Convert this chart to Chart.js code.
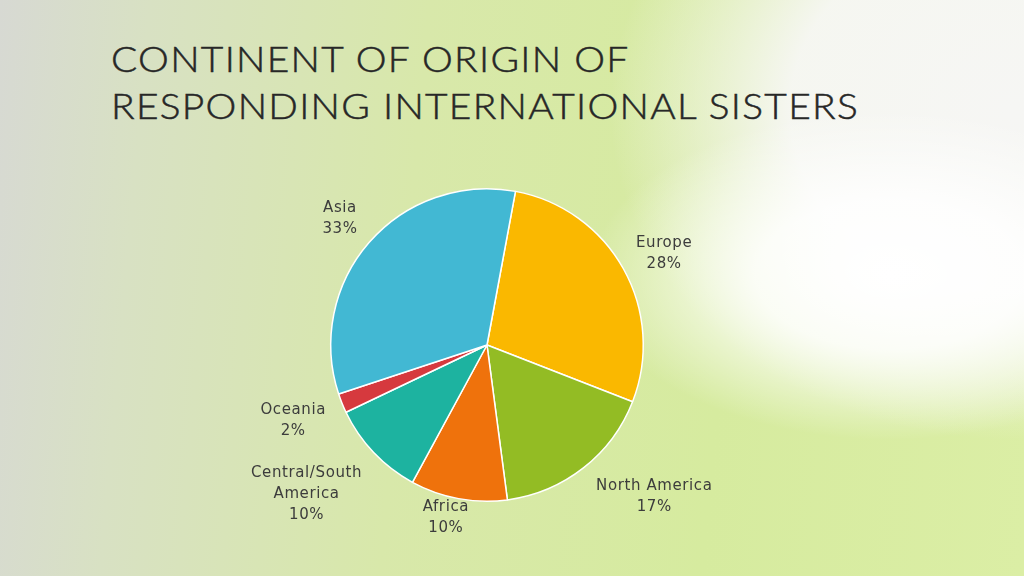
<!DOCTYPE html>
<html>
<head>
<meta charset="utf-8">
<script src="https://cdn.jsdelivr.net/npm/chart.js@4.4.0/dist/chart.umd.min.js"></script>
<style>
  html, body { margin: 0; padding: 0; }
  body {
    width: 1024px; height: 576px; overflow: hidden; position: relative;
    background:
      radial-gradient(ellipse 300px 165px at 890px 275px, rgba(255,255,255,1) 0%, rgba(255,255,255,0.85) 45%, rgba(255,255,255,0) 100%),
      radial-gradient(ellipse 400px 330px at 1010px 110px, rgba(246,246,244,1) 0%, rgba(247,247,245,0.95) 55%, rgba(250,250,248,0) 100%),
      linear-gradient(95deg, #d7d9d3 0%, #d8e1c3 14%, #d8e8aa 40%, #d6eb9f 70%, #dbeea5 100%);
  }
  #title {
    position: absolute; left: 111px; top: 35px;
    font-family: "Lato", "DejaVu Sans", sans-serif; font-weight: 300;
    font-size: 36px; line-height: 47px; color: #272727;
    -webkit-text-stroke: 0.5px #272727;
    letter-spacing: 1.2px; white-space: nowrap;
    transform: scaleX(1.08); transform-origin: left top;
  }
  #wrap { position: absolute; left: 0; top: 0; width: 1024px; height: 576px; }
</style>
</head>
<body>
<div id="title">CONTINENT OF ORIGIN OF<br>RESPONDING INTERNATIONAL SISTERS</div>
<div id="wrap"><canvas id="chart"></canvas></div>
<script>
// datos del gráfico (en sentido horario desde arriba)
const continentes = ['Europe', 'North America', 'Africa', 'Central/South America', 'Oceania', 'Asia'];
const porcentajes = [28, 17, 10, 10, 2, 33];
const colores = ['#fab800', '#93bc24', '#ef720c', '#1db3a0', '#d6393e', '#42b8d3'];

// etiquetas de texto (nombre partido en líneas)
const lineasNombre = [['Europe'], ['North America'], ['Africa'], ['Central/South', 'America'], ['Oceania'], ['Asia']];

// plugin para dibujar las etiquetas fuera de cada sector
const etiquetasFuera = {
  id: 'etiquetasFuera',
  afterDatasetsDraw(chart, args, opts) {
    const ctx = chart.ctx;
    const meta = chart.getDatasetMeta(0);
    const total = porcentajes.reduce((a, b) => a + b, 0);
    ctx.save();
    ctx.font = opts.font;
    ctx.letterSpacing = opts.letterSpacing;
    ctx.fillStyle = opts.color;
    ctx.textAlign = 'center';
    ctx.textBaseline = 'middle';
    meta.data.forEach((arc, i) => {
      const p = arc.getProps(['x', 'y', 'startAngle', 'endAngle', 'outerRadius'], true);
      const mid = (p.startAngle + p.endAngle) / 2;
      const ux = Math.cos(mid), uy = Math.sin(mid);
      const lineas = lineasNombre[i].concat([Math.round(porcentajes[i] / total * 100) + '%']);
      const w = Math.max(...lineas.map(l => ctx.measureText(l).width));
      const h = lineas.length * opts.lineHeight;
      const ax = p.x + (p.outerRadius + opts.pad) * ux;
      const ay = p.y + (p.outerRadius + opts.pad) * uy;
      const nudge = opts.nudge[i] || [0, 0];
      const cx = ax + ux * w / 2 + nudge[0];
      const cy = ay + uy * h / 2 + nudge[1];
      lineas.forEach((l, k) => {
        ctx.fillText(l, cx, cy - h / 2 + opts.lineHeight * (k + 0.5));
      });
    });
    ctx.restore();
  }
};

new Chart(document.getElementById('chart'), {
  type: 'pie',
  data: {
    labels: continentes,
    datasets: [{
      data: porcentajes,
      backgroundColor: colores,
      borderColor: '#ffffff',
      borderWidth: 1.5
    }]
  },
  options: {
    responsive: true,
    maintainAspectRatio: false,
    animation: false,
    rotation: 10.5,
    layout: { padding: { left: 330, right: 380, top: 188, bottom: 74 } },
    plugins: {
      legend: { display: false },
      tooltip: { enabled: false },
      etiquetasFuera: {
        font: '15px "DejaVu Sans", sans-serif',
        letterSpacing: '0.6px',
        color: '#3c3c3c',
        lineHeight: 21,
        pad: 8,
        nudge: [[9, -1], [30, 6], [-7, -10], [-21, 14], [-11, 7], [-10, -5]]
      }
    }
  },
  plugins: [etiquetasFuera]
});
</script>
</body>
</html>
